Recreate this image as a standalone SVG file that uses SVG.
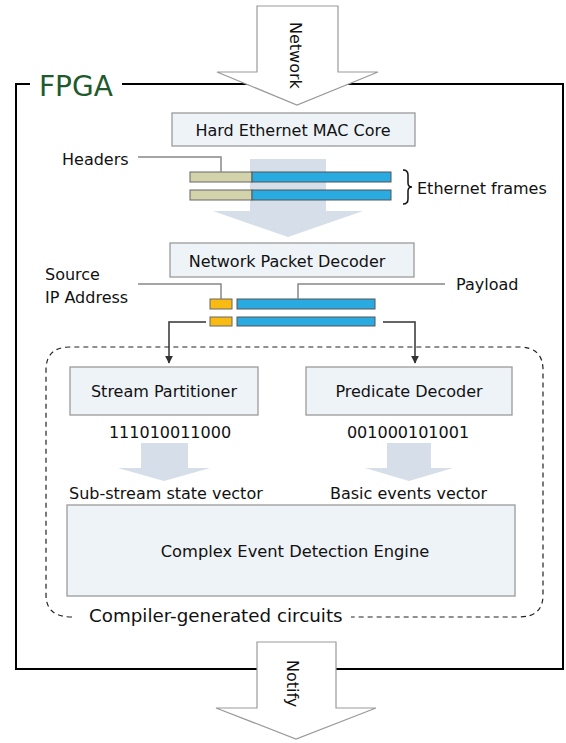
<svg xmlns="http://www.w3.org/2000/svg" width="566" height="743" viewBox="0 0 566 743">
<style>
text{font-family:"DejaVu Sans","Liberation Sans",sans-serif;font-size:16px;fill:#111}
.box{fill:#eef3f8;stroke:#9a9a9a;stroke-width:1.3}
.big{fill:#fff;stroke:#9a9a9a;stroke-width:1.2}
.flow{fill:#d5dee9}
.lead{fill:none;stroke:#888;stroke-width:1.5}
.conn{fill:none;stroke:#333;stroke-width:1.5}
.hdr{fill:#d3d3ab;stroke:#666;stroke-width:1}
.pay{fill:#29abe2;stroke:#555;stroke-width:1}
.ip{fill:#f9bb12;stroke:#666;stroke-width:1}
.c{text-anchor:middle}
</style>
<defs>
<marker id="ah" viewBox="0 0 10 10" refX="9" refY="5" markerWidth="8" markerHeight="8" markerUnits="userSpaceOnUse" orient="auto"><path d="M0,0 L10,5 L0,10 z" fill="#333"/></marker>
</defs>
<rect width="566" height="743" fill="#fff"/>
<g id="fpga">
<path d="M30 84 H16 V669 H563 V84 H122" fill="none" stroke="#000" stroke-width="2"/>
<text x="39" y="96" style="font-size:28px;fill:#1e5a2c">FPGA</text>
</g>
<g id="circuits">
<path d="M72 617 Q46 617 46 595 V370 Q46 347 70 347 H519 Q543 347 543 370 V595 Q543 617 519 617 H351" fill="none" stroke="#222" stroke-width="1.2" stroke-dasharray="5,4"/>
<text x="89" y="622" style="font-size:18.3px">Compiler-generated circuits</text>
</g>
<g id="flows">
<polygon class="flow" points="250,159 326,159 326,211 363,211 288,237 213,211 250,211"/>
<polygon class="flow" points="141,443 188,443 188,468 210,468 164,481 118,468 141,468"/>
<polygon class="flow" points="387,443 431,443 431,468 453,468 409,481 365,468 387,468"/>
</g>
<g id="network">
<polygon class="big" points="257,6 338,6 338,72 378,72 297,105 217,72 257,72"/>
<text transform="translate(290,22) rotate(90)">Network</text>
</g>
<g id="mac">
<rect class="box" x="172" y="113" width="243" height="33"/>
<text class="c" x="293" y="136">Hard Ethernet MAC Core</text>
</g>
<g id="frames">
<rect class="hdr" x="190" y="172" width="62" height="10"/>
<rect class="pay" x="252" y="172" width="139" height="10"/>
<rect class="hdr" x="190" y="190" width="62" height="10"/>
<rect class="pay" x="252" y="190" width="139" height="10"/>
<path class="lead" d="M138 157 H221 V172"/>
<text x="62" y="165">Headers</text>
<path d="M403 170 Q408 170 408 175 V183 Q408 187 412 187 Q408 187 408 191 V199 Q408 204 403 204" fill="none" stroke="#111" stroke-width="1.5"/>
<text x="417" y="194">Ethernet frames</text>
</g>
<g id="npd">
<rect class="box" x="170" y="243" width="244" height="34"/>
<text class="c" x="287" y="267">Network Packet Decoder</text>
</g>
<g id="packets">
<rect class="ip" x="210" y="299" width="22" height="10"/>
<rect class="pay" x="237" y="299" width="138" height="10"/>
<rect class="ip" x="210" y="317" width="22" height="9"/>
<rect class="pay" x="237" y="317" width="138" height="9"/>
<path class="lead" d="M138 284 H221 V299"/>
<path class="lead" d="M445 284 H298 V299"/>
<text x="45" y="280">Source</text>
<text x="45" y="303">IP Address</text>
<text x="456" y="290">Payload</text>
</g>
<g id="connectors">
<path class="conn" d="M206 322 H169 V363" marker-end="url(#ah)"/>
<path class="conn" d="M383 322 H415 V363" marker-end="url(#ah)"/>
</g>
<g id="partitioner">
<rect class="box" x="70" y="367" width="188" height="48"/>
<text class="c" x="164" y="397">Stream Partitioner</text>
<text class="c" x="170" y="438">111010011000</text>
<text x="69" y="499">Sub-stream state vector</text>
</g>
<g id="predicate">
<rect class="box" x="306" y="367" width="206" height="48"/>
<text class="c" x="409" y="397">Predicate Decoder</text>
<text class="c" x="408" y="438">001000101001</text>
<text x="330" y="499">Basic events vector</text>
</g>
<g id="cede">
<rect class="box" x="67" y="505" width="448" height="91"/>
<text class="c" x="295" y="557" style="font-size:16.3px">Complex Event Detection Engine</text>
</g>
<g id="notify">
<polygon class="big" points="257,642 336,642 336,708 376,708 296,739 216,708 257,708"/>
<text transform="translate(287,660) rotate(90)">Notify</text>
</g>
</svg>
